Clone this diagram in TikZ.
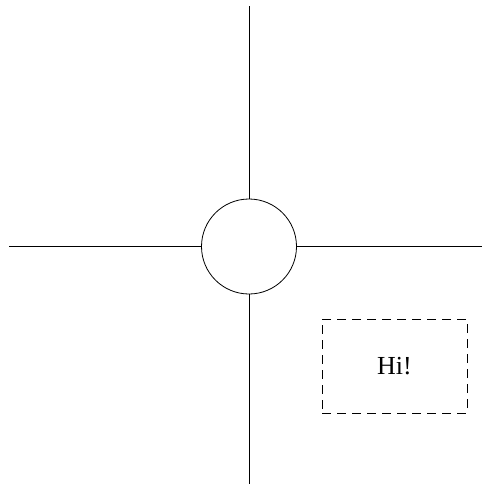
\documentclass[tikz,border=0pt]{standalone}
\usepackage{fontspec}
\setmainfont{Liberation Serif}
\tikzset{
  hubCircle/.style={draw, circle, line width=0.8pt, minimum size=95pt, inner sep=0pt},
  hubSpoke/.style={line width=0.8pt},
  noteBox/.style={draw, line width=0.8pt, dash pattern=on 9pt off 6pt, minimum width=145pt, minimum height=94pt, inner sep=0pt, font=\fontsize{26}{31}\selectfont}
}
\begin{document}
\begin{tikzpicture}[x=1pt,y=-1pt]
\useasboundingbox (0,0) rectangle (482,485);
\node[hubCircle] (hub) at (249,246.5) {};
\coordinate (spokeN) at (249,6);
\coordinate (spokeS) at (249,484);
\coordinate (spokeW) at (9,246.5);
\coordinate (spokeE) at (482,246.5);
\draw[hubSpoke] (hub.north) -- (spokeN);
\draw[hubSpoke] (hub.south) -- (spokeS);
\draw[hubSpoke] (hub.west) -- (spokeW);
\draw[hubSpoke] (hub.east) -- (spokeE);
\node[noteBox] (note) at (394.5,366) {Hi!};
\end{tikzpicture}
\end{document}
